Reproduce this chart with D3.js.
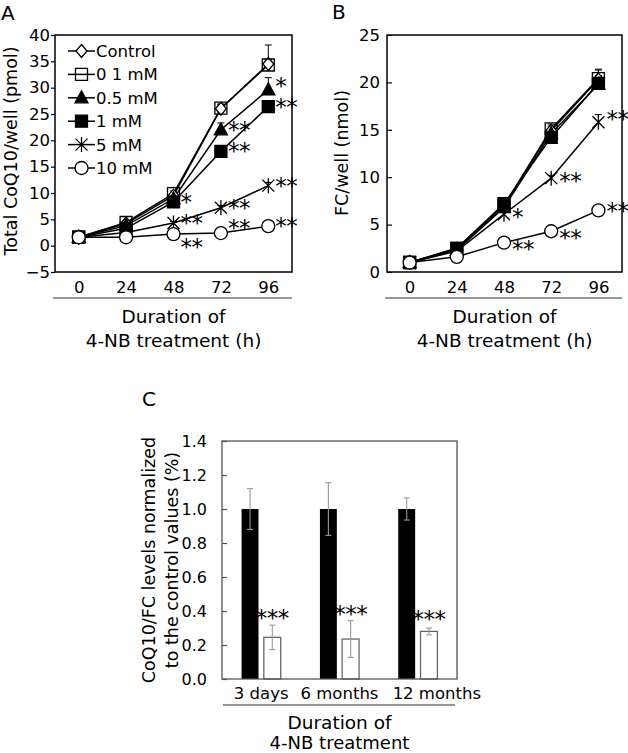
<!DOCTYPE html>
<html>
<head>
<meta charset="utf-8">
<script src="https://cdn.jsdelivr.net/npm/d3@7"></script>
<style>
  html, body { margin: 0; padding: 0; background: #fff; }
  svg { display: block; font-family: "DejaVu Sans", Verdana, sans-serif; }
</style>
</head>
<body>
<svg id="chart" width="628" height="753"></svg>
<script>
// ---------------- DATA ----------------
const times = [0, 24, 48, 72, 96];
const timeTicks = ["0", "24", "48", "72", "96"];
const seriesNames = ["Control", "0 1 mM", "0.5 mM", "1 mM", "5 mM", "10 mM"];
const seriesMarkers = ["diamond", "openSquare", "triangle", "square", "star", "circle"];

// Panel A: Total CoQ10/well (pmol)
const coqControl = [1.6, 4.2, 9.5, 26.0, 34.5];
const coq01 = [1.6, 4.4, 9.9, 26.1, 34.3];
const coq05 = [1.6, 3.8, 8.9, 22.0, 29.6];
const coq1 = [1.6, 3.3, 8.3, 17.9, 26.4];
const coq5 = [1.6, 2.5, 4.3, 7.2, 11.4];
const coq10 = [1.6, 1.6, 2.2, 2.4, 3.7];
const coqControlErr = [0.2, 0.3, 0.6, 0.8, 3.6];
const coq01Err = [0.2, 0.3, 0.5, 0.8, 1.0];
const coq05Err = [0.2, 0.3, 0.5, 1.3, 2.3];
const coq1Err = [0.2, 0.3, 0.5, 0.7, 1.0];
const coq5Err = [0.1, 0.2, 0.3, 0.4, 0.6];
const coq10Err = [0.1, 0.1, 0.2, 0.2, 0.3];
const coqSig = [
  ["", "", "", "", ""],
  ["", "", "", "", ""],
  ["", "", "", "**", "*"],
  ["", "", "*", "**", "**"],
  ["", "", "**", "**", "**"],
  ["", "", "**", "**", "**"]
];
const coqTicks = [-5, 0, 5, 10, 15, 20, 25, 30, 35, 40];

// Panel B: FC/well (nmol)
const fcControl = [1.0, 2.4, 7.0, 14.9, 20.3];
const fc01 = [1.0, 2.5, 7.0, 15.1, 20.4];
const fc05 = [1.0, 2.3, 6.8, 14.6, 19.8];
const fc1 = [1.0, 2.5, 7.2, 14.2, 19.9];
const fc5 = [1.0, 2.2, 6.1, 9.9, 15.8];
const fc10 = [1.0, 1.6, 3.1, 4.3, 6.5];
const fcControlErr = [0.1, 0.2, 0.4, 0.5, 1.1];
const fc01Err = [0.1, 0.2, 0.4, 0.5, 0.9];
const fc05Err = [0.1, 0.2, 0.4, 0.5, 0.9];
const fc1Err = [0.1, 0.2, 0.4, 0.5, 0.8];
const fc5Err = [0.1, 0.1, 0.3, 0.3, 0.8];
const fc10Err = [0.05, 0.1, 0.1, 0.2, 0.2];
const fcSig = [
  ["", "", "", "", ""],
  ["", "", "", "", ""],
  ["", "", "", "", ""],
  ["", "", "", "", ""],
  ["", "", "*", "**", "**"],
  ["", "", "**", "**", "**"]
];
const fcTicks = [0, 5, 10, 15, 20, 25];

// Panel C
const cCategories = ["3 days", "6 months", "12 months"];
const cControl = [1.0, 1.0, 1.0];
const cControlErr = [0.12, 0.155, 0.065];
const cTreated = [0.245, 0.235, 0.28];
const cTreatedErr = [0.072, 0.108, 0.02];
const cTreatedSig = ["***", "***", "***"];
const cTicks = [0.0, 0.2, 0.4, 0.6, 0.8, 1.0, 1.2, 1.4];

// ---------------- DRAWING ----------------
const svg = d3.select("#chart");
const FONT = "\"DejaVu Sans\", Verdana, sans-serif";
const SIG_FS = 23;
const SIG_CENTER = 0.56 * SIG_FS; // baseline offset from visual centre of "*"

function markerPath(type) {
  switch (type) {
    case "diamond": return "M0,-6.5L5.5,0L0,6.5L-5.5,0Z";
    case "openSquare":
    case "square": return "M-6,-6H6V6H-6Z";
    case "triangle": return "M0,-7L6.5,5L-6.5,5Z";
    case "circle": return "M6.5,0A6.5,6.5 0 1,1 -6.5,0A6.5,6.5 0 1,1 6.5,0Z";
    case "star": return "M0,-7.5V7.5M-6,-6L6,6M-6,6L6,-6";
  }
}
function drawMarker(g, type, x, y) {
  const filled = (type === "triangle" || type === "square");
  const p = g.append("path")
    .attr("transform", `translate(${x},${y})`)
    .attr("d", markerPath(type))
    .attr("stroke", "#000")
    .attr("stroke-width", 1.3);
  if (type === "star") p.attr("fill", "none");
  else if (type === "openSquare") p.attr("fill", "none");
  else if (filled) p.attr("fill", "#000");
  else p.attr("fill", "#fff");
}

function linePanel(opts) {
  const { left, right, top, bottom, xDomain, yDomain, yTicks, values, errs, sigs,
          yTickSize, yTickPad, yLabel, yLabelX, yLabelY, letter, letterX, letterY,
          sigDx, sigDy } = opts;
  const x = d3.scaleLinear().domain(xDomain).range([left, right]);
  const y = d3.scaleLinear().domain(yDomain).range([bottom, top]);
  const g = svg.append("g");

  const ya = g.append("g").attr("transform", `translate(${left},0)`)
    .call(d3.axisLeft(y).tickValues(yTicks).tickSize(yTickSize).tickPadding(yTickPad)
      .tickFormat(d => d < 0 ? "\u2212" + Math.abs(d) : d));
  ya.select(".domain").remove();
  ya.selectAll("line").attr("stroke", "#000").attr("stroke-width", 1.2);
  ya.selectAll("text").attr("font-family", FONT).attr("font-size", 16.5).attr("fill", "#000");

  const xa = g.append("g").attr("transform", `translate(0,${bottom})`)
    .call(d3.axisBottom(x).tickValues(times).tickSize(0).tickPadding(9).tickFormat((d, i) => timeTicks[i]));
  xa.select(".domain").remove();
  xa.selectAll("text").attr("font-family", FONT).attr("font-size", 16.5).attr("fill", "#000");

  g.append("rect").attr("x", left).attr("y", top).attr("width", right - left).attr("height", bottom - top)
    .attr("fill", "none").attr("stroke", "#000").attr("stroke-width", 1.5);

  g.append("line").attr("x1", left - 2).attr("x2", right).attr("y1", 298).attr("y2", 298)
    .attr("stroke", "#333").attr("stroke-width", 1.2);
  const cx = (left + right) / 2;
  g.append("text").attr("x", cx).attr("y", 323).attr("text-anchor", "middle")
    .attr("font-size", 18.5).text("Duration of");
  g.append("text").attr("x", cx).attr("y", 347).attr("text-anchor", "middle")
    .attr("font-size", 18.5).text("4-NB treatment (h)");

  g.append("text").attr("transform", `translate(${yLabelX},${yLabelY}) rotate(-90)`)
    .attr("text-anchor", "middle").attr("dominant-baseline", "central")
    .attr("font-size", 17.5).text(yLabel);

  svg.append("text").attr("x", letterX).attr("y", letterY).attr("font-size", 20).text(letter);

  values.forEach((vals, si) => {
    vals.forEach((v, i) => {
      const e = errs[si][i];
      const xx = x(times[i]);
      g.append("line").attr("x1", xx).attr("x2", xx).attr("y1", y(v)).attr("y2", y(v + e))
        .attr("stroke", "#000").attr("stroke-width", 1);
      g.append("line").attr("x1", xx - 3.5).attr("x2", xx + 3.5).attr("y1", y(v + e)).attr("y2", y(v + e))
        .attr("stroke", "#000").attr("stroke-width", 1);
    });
  });

  const line = d3.line().x((d, i) => x(times[i])).y(d => y(d));
  values.forEach(vals => {
    g.append("path").attr("d", line(vals)).attr("fill", "none")
      .attr("stroke", "#000").attr("stroke-width", 1.5);
  });
  values.forEach((vals, si) => {
    vals.forEach((v, i) => drawMarker(g, seriesMarkers[si], x(times[i]), y(v)));
  });
  sigs.forEach((row, si) => {
    row.forEach((s, i) => {
      if (!s) return;
      g.append("text").attr("x", x(times[i]) + sigDx)
        .attr("y", y(values[si][i]) + sigDy(si, i) + SIG_CENTER)
        .attr("font-size", SIG_FS).attr("letter-spacing", -0.5).text(s);
    });
  });
  return { x, y, g };
}

svg.attr("font-family", FONT).attr("fill", "#000");

// Panel A
const A = linePanel({
  left: 55, right: 292, top: 35, bottom: 272,
  xDomain: [-12, 108], yDomain: [-5, 40], yTicks: coqTicks,
  values: [coqControl, coq01, coq05, coq1, coq5, coq10],
  errs: [coqControlErr, coq01Err, coq05Err, coq1Err, coq5Err, coq10Err],
  sigs: coqSig, yTickSize: 4, yTickPad: 1,
  yLabel: "Total CoQ10/well (pmol)", yLabelX: 11, yLabelY: 151,
  letter: "A", letterX: 1, letterY: 20, sigDx: 7,
  sigDy: (si, i) => {
    if (si === 5 && i === 2) return 8;
    if (si === 5 && i === 3) return -10;
    if (si === 2 && i === 4) return -9;
    return -5;
  }
});

// Legend for A
seriesNames.forEach((name, i) => {
  const yy = 51 + i * 23.4;
  A.g.append("line").attr("x1", 68).attr("x2", 95).attr("y1", yy).attr("y2", yy)
    .attr("stroke", "#000").attr("stroke-width", 1.5);
  drawMarker(A.g, seriesMarkers[i], 81.5, yy);
  A.g.append("text").attr("x", 96).attr("y", yy).attr("dy", "0.36em")
    .attr("font-size", 16.5).text(name);
});

// Panel B
linePanel({
  left: 387, right: 622, top: 35, bottom: 272,
  xDomain: [-11.5, 108], yDomain: [0, 25], yTicks: fcTicks,
  values: [fcControl, fc01, fc05, fc1, fc5, fc10],
  errs: [fcControlErr, fc01Err, fc05Err, fc1Err, fc5Err, fc10Err],
  sigs: fcSig, yTickSize: -5, yTickPad: 7,
  yLabel: "FC/well (nmol)", yLabelX: 342, yLabelY: 153,
  letter: "B", letterX: 332, letterY: 19, sigDx: 8,
  sigDy: (si, i) => {
    if (si === 4 && i === 4) return -8;
    if (si === 5 && i === 4) return -4;
    if (si === 5) return 1.5;
    return -2;
  }
});

// Panel C
(function () {
  const left = 222, right = 457, top = 441, bottom = 679;
  const g = svg.append("g");
  const x0 = d3.scaleBand().domain(cCategories).range([left, right]).padding(0);
  const groupW = x0.bandwidth() * 0.5;
  const x1 = d3.scaleBand().domain(["control", "treated"]).range([0, groupW]).paddingInner(0.24).paddingOuter(0);
  const y = d3.scaleLinear().domain([0, 1.4]).range([bottom, top]);

  const ya = g.append("g").attr("transform", `translate(${left},0)`)
    .call(d3.axisLeft(y).tickValues(cTicks).tickSize(-5).tickPadding(15).tickFormat(d3.format(".1f")));
  ya.select(".domain").remove();
  ya.selectAll("line").attr("stroke", "#555").attr("stroke-width", 1.2);
  ya.selectAll("text").attr("font-family", FONT).attr("font-size", 16).attr("fill", "#000");

  const gx = c => x0(c) + (x0.bandwidth() - groupW) / 2;
  cCategories.forEach((c, i) => {
    g.append("rect").attr("x", gx(c) + x1("control")).attr("y", y(cControl[i]))
      .attr("width", x1.bandwidth()).attr("height", y(0) - y(cControl[i])).attr("fill", "#000");
    g.append("rect").attr("x", gx(c) + x1("treated")).attr("y", y(cTreated[i]))
      .attr("width", x1.bandwidth()).attr("height", y(0) - y(cTreated[i]))
      .attr("fill", "#fff").attr("stroke", "#666").attr("stroke-width", 1.3);
  });
  function err(cx, v, e) {
    g.append("line").attr("x1", cx).attr("x2", cx).attr("y1", y(v - e)).attr("y2", y(v + e))
      .attr("stroke", "#999").attr("stroke-width", 1.1);
    [v - e, v + e].forEach(t => g.append("line").attr("x1", cx - 3).attr("x2", cx + 3)
      .attr("y1", y(t)).attr("y2", y(t)).attr("stroke", "#999").attr("stroke-width", 1.1));
  }
  cCategories.forEach((c, i) => {
    err(gx(c) + x1("control") + x1.bandwidth() / 2, cControl[i], cControlErr[i]);
    err(gx(c) + x1("treated") + x1.bandwidth() / 2, cTreated[i], cTreatedErr[i]);
    g.append("text").attr("x", gx(c) + x1("treated") + x1.bandwidth() / 2)
      .attr("y", y(cTreated[i] + cTreatedErr[i]) - 12 + SIG_CENTER - (i === 2 ? 2 : 0))
      .attr("text-anchor", "middle").attr("font-size", SIG_FS).attr("letter-spacing", -0.5)
      .text(cTreatedSig[i]);
  });

  g.append("rect").attr("x", left).attr("y", top).attr("width", right - left).attr("height", bottom - top)
    .attr("fill", "none").attr("stroke", "#555").attr("stroke-width", 1.3);

  const labelShift = [0, 0, 19];
  cCategories.forEach((c, i) => {
    g.append("text").attr("x", x0(c) + x0.bandwidth() / 2 + labelShift[i]).attr("y", 699)
      .attr("text-anchor", "middle").attr("font-size", 16.5).text(c);
  });
  g.append("line").attr("x1", left + 1).attr("x2", right - 2).attr("y1", 705).attr("y2", 705)
    .attr("stroke", "#333").attr("stroke-width", 1.2);
  const cx = (left + right) / 2;
  g.append("text").attr("x", cx).attr("y", 729).attr("text-anchor", "middle")
    .attr("font-size", 18.5).text("Duration of");
  g.append("text").attr("x", cx).attr("y", 749).attr("text-anchor", "middle")
    .attr("font-size", 18).text("4-NB treatment");

  g.append("text").attr("transform", `translate(149,560) rotate(-90)`)
    .attr("text-anchor", "middle").attr("dominant-baseline", "central")
    .attr("font-size", 17.5).text("CoQ10/FC levels normalized");
  g.append("text").attr("transform", `translate(172,560) rotate(-90)`)
    .attr("text-anchor", "middle").attr("dominant-baseline", "central")
    .attr("font-size", 17.5).text("to the control values (%)");

  svg.append("text").attr("x", 142).attr("y", 406).attr("font-size", 20).text("C");
})();
</script>
</body>
</html>
